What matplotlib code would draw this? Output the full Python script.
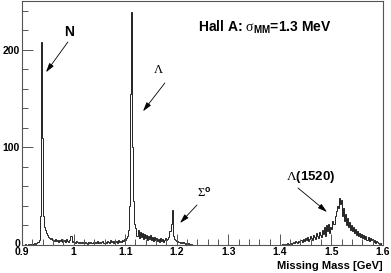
import numpy as np
import matplotlib
matplotlib.use("Agg")
import matplotlib.pyplot as plt
import matplotlib.transforms as mtransforms
from matplotlib.ticker import MultipleLocator

plt.rcParams['font.family'] = ['Liberation Sans', 'DejaVu Sans']
plt.rcParams['mathtext.fontset'] = 'custom'
plt.rcParams['mathtext.rm'] = 'Liberation Serif'
plt.rcParams['mathtext.it'] = 'Liberation Serif:italic'
plt.rcParams['mathtext.bf'] = 'Liberation Sans:bold'

# missing mass histogram, 2 MeV bins from 0.9 to 1.6 GeV
bin_lo = 0.9
bin_w = 0.002
counts = [
    0, 0, 0, 1, 0, 0, 1, 0, 1, 0,            # 0.90
    1, 1, 2, 1, 2, 3, 5, 30, 208, 110,        # 0.92
    30, 18, 15, 12, 10, 8, 7, 6, 7, 5,        # 0.94
    5, 4, 6, 4, 5, 3, 5, 4, 6, 3,             # 0.96
    4, 5, 3, 6, 4, 3, 5, 9, 3, 4,             # 0.98
    3, 2, 4, 3, 2, 3, 2, 3, 2, 3,             # 1.00
    2, 3, 2, 1, 3, 2, 3, 2, 2, 3,             # 1.02
    2, 3, 2, 4, 2, 3, 2, 3, 4, 2,             # 1.04
    3, 2, 4, 3, 2, 5, 3, 4, 2, 4,             # 1.06
    3, 4, 2, 5, 3, 4, 3, 5, 4, 6,             # 1.08
    5, 7, 9, 15, 40, 155, 239, 100, 45, 22,   # 1.10
    17, 9, 15, 7, 13, 8, 12, 6, 11, 7,        # 1.12
    10, 5, 9, 6, 10, 5, 8, 4, 8, 5,           # 1.14
    7, 4, 6, 3, 7, 4, 6, 3, 5, 7,             # 1.16
    5, 6, 8, 14, 22, 36, 9, 6, 5, 4,          # 1.18
    4, 3, 3, 2, 3, 2, 3, 2, 1, 2,             # 1.20
    1, 2, 1, 0, 1, 0, 0, 0, 0, 0,             # 1.22
    0, 0, 0, 0, 0, 0, 0, 0, 0, 0,             # 1.24
    0, 0, 0, 0, 0, 0, 0, 0, 0, 0,             # 1.26
    0, 0, 0, 0, 0, 0, 0, 0, 0, 0,             # 1.28
    0, 0, 0, 0, 0, 0, 0, 0, 0, 0,             # 1.30
    0, 0, 0, 0, 0, 0, 0, 0, 0, 0,             # 1.32
    0, 0, 0, 0, 0, 0, 0, 0, 0, 0,             # 1.34
    0, 0, 0, 0, 0, 0, 0, 0, 0, 0,             # 1.36
    0, 0, 0, 0, 0, 0, 0, 0, 0, 0,             # 1.38
    0, 0, 1, 0, 1, 0, 1, 2, 1, 1,             # 1.40
    2, 1, 2, 3, 2, 4, 3, 2, 4, 3,             # 1.42
    5, 3, 6, 4, 7, 5, 8, 4, 6, 9,             # 1.44
    7, 5, 10, 8, 6, 12, 9, 7, 13, 10,         # 1.46
    8, 15, 11, 18, 9, 20, 14, 22, 12, 18,     # 1.48
    16, 25, 22, 30, 35, 40, 38, 48, 42, 46,   # 1.50
    30, 38, 25, 32, 20, 28, 18, 24, 15, 20,   # 1.52
    14, 18, 12, 16, 10, 14, 9, 12, 8, 11,     # 1.54
    7, 10, 6, 9, 5, 8, 4, 7, 5, 6,            # 1.56
    3, 5, 2, 4, 3, 2, 1, 2, 0, 0,             # 1.58
]
edges = bin_lo + bin_w * np.arange(len(counts) + 1)

fig = plt.figure(figsize=(3.91, 2.73), dpi=100)
ax = fig.add_axes([22 / 391, 1 - 245 / 273, 361 / 391, 244 / 273])

ax.stairs(counts, edges, color='black', linewidth=0.6)

ax.set_xlim(0.9, 1.6)
ax.set_ylim(0, 250)

ax.xaxis.set_minor_locator(MultipleLocator(0.02))
ax.yaxis.set_minor_locator(MultipleLocator(20))
ax.set_xticks([0.9, 1.0, 1.1, 1.2, 1.3, 1.4, 1.5, 1.6])
ax.set_xticklabels(['0.9', '1', '1.1', '1.2', '1.3', '1.4', '1.5', '1.6'])
ax.set_yticks([0, 100, 200])
ax.set_yticklabels(['0', '100', '200'])

ax.tick_params(which='both', direction='in', width=0.7, color='#555555',
               labelsize=7.5, top=False, right=False)
ax.tick_params(which='major', length=8, pad=1.5)
ax.tick_params(which='minor', length=4)
for lab in ax.get_xticklabels() + ax.get_yticklabels():
    lab.set_fontweight('bold')
for s in ax.spines.values():
    s.set_color('#555555')
    s.set_linewidth(0.8)

# lift the "0" label a little, as in the original
zero_lab = ax.get_yticklabels()[0]
zero_lab.set_transform(zero_lab.get_transform() +
                       mtransforms.ScaledTranslation(0, 2 / 100, fig.dpi_scale_trans))

ax.text(1.0, -0.065, 'Missing Mass [GeV]', transform=ax.transAxes,
        ha='right', va='top', fontsize=8, fontweight='bold')

# labels and arrows
arrow = dict(arrowstyle='-|>,head_length=0.55,head_width=0.16',
             color='black', lw=0.6, shrinkA=0, shrinkB=0)

ax.text(0.991, 218, 'N', ha='center', va='center', fontsize=10, fontweight='bold')
ax.annotate('', xy=(0.9465, 177), xytext=(0.989, 208), arrowprops=arrow)

ax.text(1.164, 179, r'$\Lambda$', ha='center', va='center', fontsize=9)
ax.annotate('', xy=(1.1346, 137), xytext=(1.177, 166), arrowprops=arrow)

ax.text(1.253, 53, r'$\Sigma^{\mathbf{o}}$', ha='center', va='center', fontsize=9)
ax.annotate('', xy=(1.2064, 22.5), xytext=(1.2394, 41), arrowprops=arrow)

ax.text(1.460, 70, r'$\Lambda$(1520)', ha='center', va='center', fontsize=9.5,
        fontweight='bold')
ax.annotate('', xy=(1.4914, 33.8), xytext=(1.4352, 58.4), arrowprops=arrow)

ax.text(1.241, 223, r'Hall A: $\mathrm{\sigma}_{\mathbf{MM}}$=1.3 MeV',
        ha='left', va='center', fontsize=10, fontweight='bold')

fig.savefig('out.png', dpi=100)
